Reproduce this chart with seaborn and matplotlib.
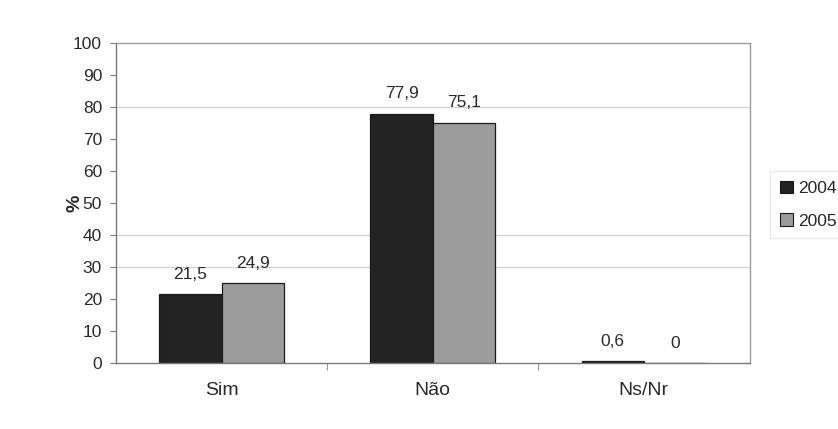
import matplotlib
matplotlib.use("Agg")
import matplotlib.pyplot as plt
from matplotlib.patches import Patch
import seaborn as sns
import pandas as pd

categories = ["Sim", "Não", "Ns/Nr"]
years = ["2004", "2005"]
values_2004 = [21.5, 77.9, 0.6]
values_2005 = [24.9, 75.1, 0.0]
value_labels_2004 = ["21,5", "77,9", "0,6"]
value_labels_2005 = ["24,9", "75,1", "0"]
y_ticks = [0, 10, 20, 30, 40, 50, 60, 70, 80, 90, 100]
grid_values = [30, 40, 80]

df = pd.DataFrame({
    "categoria": categories * 2,
    "ano": [years[0]] * 3 + [years[1]] * 3,
    "valor": values_2004 + values_2005,
})

sns.set_theme(style="white")
plt.rcParams["font.family"] = ["Liberation Sans", "DejaVu Sans"]

colors = {"2004": "#232323", "2005": "#9c9c9c"}
text_color = "#2a2a2a"

fig = plt.figure(figsize=(8.38, 4.29), dpi=100)
fig.patch.set_facecolor("white")
ax = fig.add_axes([0.1384, 0.1538, 0.7560, 0.7460])

for g in grid_values:
    ax.axhline(g, color="#d2d2d2", lw=0.9, zorder=0)

sns.barplot(data=df, x="categoria", y="valor", hue="ano", order=categories,
            hue_order=years, palette=colors, width=0.59, edgecolor="#1a1a1a",
            linewidth=0.9, saturation=1, legend=False, ax=ax, zorder=2)

# value labels above each bar
labels_by_year = [value_labels_2004, value_labels_2005]
for container, labels in zip(ax.containers, labels_by_year):
    ax.bar_label(container, labels=labels, padding=9, fontsize=12.5, color=text_color)

ax.set_xlim(-0.5, 2.5)
ax.set_ylim(0, 100)
ax.set_yticks(y_ticks)
ax.set_yticklabels([str(t) for t in y_ticks], fontsize=12.5, color=text_color)
ax.set_xlabel("")
ax.set_ylabel("%", fontsize=14, fontweight="bold", color=text_color)
ax.yaxis.set_label_coords(-0.052, 0.5)
ax.tick_params(axis="x", labelsize=14, colors=text_color, length=0, pad=14)
ax.tick_params(axis="y", direction="out", length=4, width=0.8, color="#777777", pad=6, left=True)
ax.set_xticks([0.5, 1.5], minor=True)
ax.tick_params(axis="x", which="minor", direction="out", length=5, width=0.8, color="#999999", bottom=True)

for side, sp in ax.spines.items():
    sp.set_visible(True)
    sp.set_color("#7a7a7a" if side in ("left", "bottom") else "#9a9a9a")
    sp.set_linewidth(1.0)

handles = [Patch(facecolor=colors[y], edgecolor="#1a1a1a", linewidth=0.8, label=y) for y in years]
leg = fig.legend(handles=handles, loc="center left", bbox_to_anchor=(0.919, 0.523),
                 frameon=True, fontsize=12.5, handlelength=0.75, handleheight=0.75,
                 handletextpad=0.3, labelspacing=1.0, borderpad=0.55, borderaxespad=0,
                 fancybox=False)
leg.get_frame().set_edgecolor("#e2e2e2")
leg.get_frame().set_linewidth(0.8)

fig.savefig("out.png", dpi=100, facecolor="white")
